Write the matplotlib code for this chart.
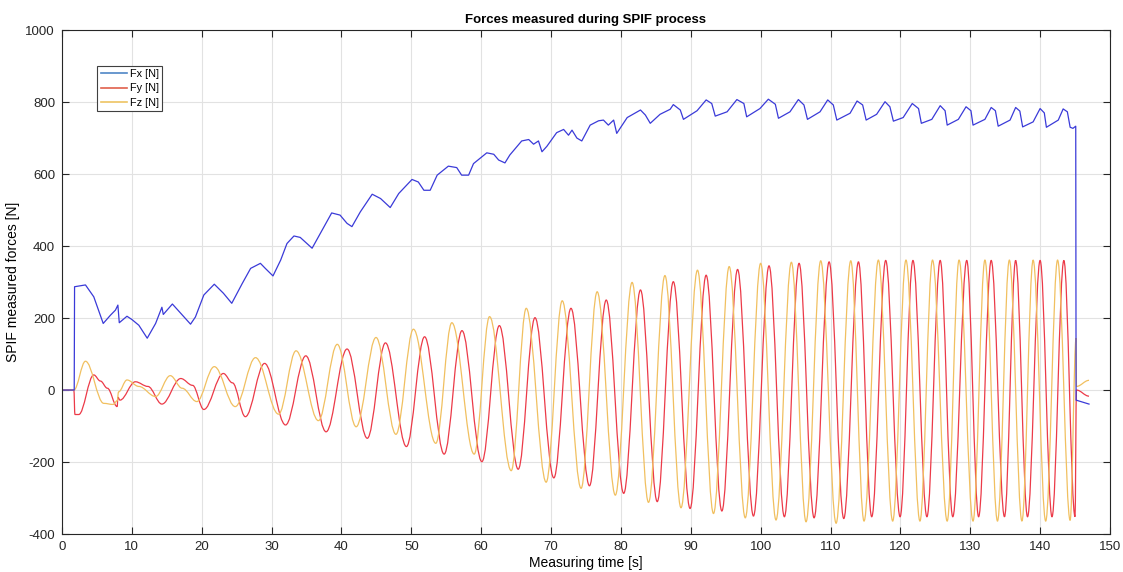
import matplotlib
matplotlib.use('Agg')
import matplotlib.pyplot as plt
from matplotlib.lines import Line2D
from matplotlib.path import Path
from matplotlib.patches import PathPatch

plt.rcParams['font.family'] = ['Liberation Sans', 'DejaVu Sans']
plt.rcParams['axes.unicode_minus'] = False

# Fx [N] (time s, force N)
fx_t = [0, 1.75, 1.8, 3.36, 4.55, 5.9, 6.94, 7.65, 8.0, 8.2, 9.3, 10.0, 11.0, 12.2, 13.4, 14.3, 14.5,
        15.8, 17.0, 18.4, 19.1, 20.3, 21.8, 23.1, 24.3, 25.8, 27.0, 28.4, 29.1, 30.2, 31.3, 32.2, 33.2,
        34.1, 35.8, 36.97, 38.6, 39.8, 40.8, 41.5, 42.7, 44.4, 45.6, 46.98, 48.2, 50.1, 51.0, 51.8,
        52.7, 53.7, 55.3, 56.5, 57.2, 58.2, 58.9, 60.8, 61.8, 62.5, 63.4, 64.1, 65.8, 66.8, 67.5, 68.2,
        68.7, 69.4, 70.8, 71.8, 72.5, 73.0, 73.7, 74.4, 75.6, 76.8, 77.5, 78.2, 78.96, 79.4, 80.9, 82.8,
        83.5, 84.2, 85.6, 87.05, 87.5, 88.5, 88.95, 90.9, 92.2, 93.0, 93.5, 95.2, 96.6, 97.6, 98.0, 99.9,
        101.1, 102.1, 102.55, 104.2, 105.4, 106.2, 106.7, 108.5, 109.6, 110.4, 110.9, 112.8, 113.8,
        114.6, 115.1, 116.6, 117.8, 118.5, 119.0, 120.4, 121.7, 122.6, 123.0, 124.5, 125.7, 126.4,
        126.7, 128.3, 129.4, 130.1, 130.4, 132.1, 133.0, 133.6, 134.0, 135.7, 136.5, 137.1, 137.5,
        139.0, 140.0, 140.6, 140.9, 142.6, 143.3, 143.9, 144.3, 144.7, 145.1, 145.15, 147.0]
fx_v = [0, 0, 287, 292, 259, 185, 208, 222, 236, 187, 205, 196, 180, 144, 185, 230, 210,
        239, 213, 183, 203, 264, 294, 269, 241, 296, 338, 352, 338, 317, 361, 407, 428,
        424, 394, 435, 492, 486, 463, 454, 495, 544, 532, 507, 546, 585, 578, 555,
        555, 597, 622, 618, 597, 597, 629, 659, 655, 639, 631, 653, 692, 696, 683, 692,
        662, 677, 715, 724, 708, 722, 700, 692, 736, 748, 750, 736, 750, 713, 757, 778,
        764, 741, 766, 780, 793, 778, 752, 776, 806, 796, 761, 773, 807, 796, 759, 782,
        808, 794, 755, 773, 807, 792, 752, 773, 806, 792, 750, 769, 803,
        792, 750, 766, 801, 787, 747, 757, 796, 782, 741, 752, 790, 776,
        736, 752, 787, 776, 736, 752, 785, 776, 733, 750, 785, 775, 731,
        745, 782, 770, 730, 750, 781, 773, 730, 727, 733, -28, -39]

# Fy [N] - turning points of the oscillation
fy_t = [0, 1.7, 1.85, 2.4, 4.55, 5.5, 6.5, 7.9, 8.0, 8.3, 10.5, 12.3, 14.3, 17.0, 18.7, 20.3, 23.1,
        24.4, 26.25, 29.0, 32.0, 34.9, 37.8, 40.8, 43.7, 46.3, 49.3, 51.9, 54.7, 57.25, 60.1, 62.6,
        65.3, 67.7, 70.4, 72.85, 75.5, 77.9, 80.4, 82.8, 85.2, 87.5, 89.9, 92.2, 94.45, 96.7, 98.97,
        101.2, 103.4, 105.5, 107.65, 109.8, 111.9, 114.0, 115.9, 117.9, 119.96, 121.8, 123.8, 125.7,
        127.5, 129.5, 131.2, 133.0, 134.9, 136.5, 138.2, 140.0, 141.7, 143.4, 145.0, 145.2, 147.0]
fy_v = [0, 0, -68, -68, 42, 25, 5, -46, -20, -28, 23, 10, -39, 32, 13, -54, 46,
        20, -74, 74, -97, 95, -116, 114, -134, 131, -157, 148, -178, 165, -199, 179,
        -220, 201, -244, 227, -266, 250, -287, 278, -310, 301, -329, 319, -336, 335, -350,
        345, -352, 352, -355, 356, -357, 356, -352, 360, -352, 360, -352, 360,
        -352, 360, -352, 360, -352, 360, -352, 360, -352, 360, -352, 0, -17]

# Fz [N] - turning points of the oscillation
fz_t = [0, 1.7, 3.36, 5.98, 7.3, 7.9, 8.1, 9.3, 11.0, 13.4, 15.5, 17.2, 19.3, 21.8, 24.8, 27.7, 31.0,
        33.5, 36.7, 39.4, 42.1, 44.95, 47.8, 50.3, 53.5, 55.8, 59.0, 61.2, 64.3, 66.45, 69.3, 71.6,
        74.3, 76.6, 79.2, 81.6, 83.95, 86.3, 88.6, 90.96, 93.25, 95.5, 97.8, 100.0, 102.2, 104.4,
        106.5, 108.6, 110.8, 112.9, 114.8, 116.85, 118.9, 120.8, 122.8, 124.6, 126.7, 128.4, 130.4,
        132.1, 133.9, 135.6, 137.4, 139.0, 140.8, 142.5, 144.3, 145.15, 145.2, 147.0]
fz_v = [0, 0, 80, -37, -40, -30, -5, 28, 10, -18, 40, 5, -32, 65, -46, 90, -67,
        109, -85, 127, -102, 146, -123, 169, -148, 187, -178, 204, -224, 227, -256, 248,
        -273, 273, -292, 299, -312, 318, -327, 333, -343, 343, -355, 352, -361, 355,
        -366, 359, -370, 359, -364, 361, -364, 361, -364, 361, -364, 361, -364,
        361, -364, 361, -364, 361, -364, 361, -362, 144, 10, 27]


def smooth_path(t, v, k=0.36):
    # cubic bezier between turning points, flat tangent at each one
    verts = [(t[0], v[0])]
    codes = [Path.MOVETO]
    for i in range(1, len(t)):
        dt = t[i] - t[i - 1]
        verts += [(t[i - 1] + k * dt, v[i - 1]), (t[i] - k * dt, v[i]), (t[i], v[i])]
        codes += [Path.CURVE4] * 3
    return Path(verts, codes)


fig = plt.figure(figsize=(11.23, 5.72), dpi=100)
ax = fig.add_axes([0.0552, 0.0664, 0.9332, 0.881])

ax.plot(fx_t, fx_v, color='#3a3ad8', linewidth=0.9)
ax.add_patch(PathPatch(smooth_path(fy_t, fy_v), fill=False, edgecolor='#ec3a48', linewidth=0.9))
ax.add_patch(PathPatch(smooth_path(fz_t, fz_v), fill=False, edgecolor='#f1c060', linewidth=0.9))

ax.set_xlim(0, 150)
ax.set_ylim(-400, 1000)
ax.set_xticks(range(0, 151, 10))
ax.set_yticks(range(-400, 1001, 200))
ax.grid(True, color='#e2e2e2', linewidth=0.8)
ax.set_axisbelow(True)
ax.tick_params(direction='in', top=True, right=True, labelsize=9.5, colors='#262626', length=5, pad=5)
for s in ax.spines.values():
    s.set_color('#262626')
    s.set_linewidth(0.8)

ax.set_title('Forces measured during SPIF process', fontsize=9.5, fontweight='bold', pad=5)
ax.set_xlabel('Measuring time [s]', fontsize=10, labelpad=2)
ax.set_ylabel('SPIF measured forces [N]', fontsize=10, labelpad=4)

handles = [Line2D([], [], color='#4f86c6', linewidth=1.2),
           Line2D([], [], color='#e0604c', linewidth=1.2),
           Line2D([], [], color='#edc462', linewidth=1.2)]
leg = ax.legend(handles, ['Fx [N]', 'Fy [N]', 'Fz [N]'], loc='upper left',
                bbox_to_anchor=(0.0337, 0.929), borderaxespad=0, fontsize=7.8,
                fancybox=False, framealpha=1, handlelength=2.4, labelspacing=0.4,
                borderpad=0.3, handletextpad=0.3)
leg.get_frame().set_edgecolor('#404040')
leg.get_frame().set_linewidth(0.8)

fig.savefig('out.png', dpi=100)
